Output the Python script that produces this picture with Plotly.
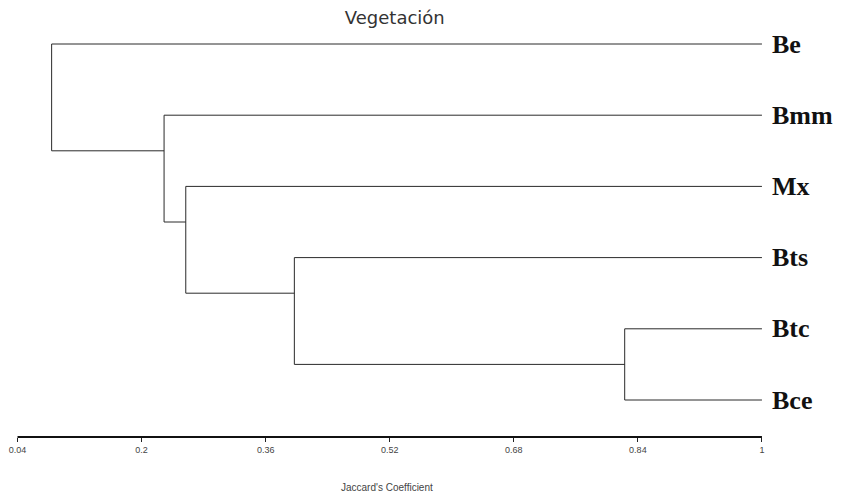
import plotly.graph_objects as go

# Leaves in display order (top to bottom)
leaves = ["Be", "Bmm", "Mx", "Bts", "Btc", "Bce"]

# Agglomeration steps: (first child, second child, Jaccard similarity at join)
merge_first = ["Btc", "Bts", "Mx", "Bmm", "Be"]
merge_second = ["Bce", "N1", "N2", "N3", "N4"]
merge_level = [0.823, 0.397, 0.257, 0.229, 0.084]

# Axis ticks
tick_vals = [0.04, 0.2, 0.36, 0.52, 0.68, 0.84, 1.0]
tick_text = ["0.04", "0.2", "0.36", "0.52", "0.68", "0.84", "1"]

leaf_level = 1.0

# Node positions: leaves sit at their index, joined nodes hang half a step below their first child
pos_y = {name: float(i) for i, name in enumerate(leaves)}
pos_x = {name: leaf_level for name in leaves}

xs, ys = [], []
for k, (a, b, h) in enumerate(zip(merge_first, merge_second, merge_level), start=1):
    ya, yb = pos_y[a], pos_y[b]
    xs += [pos_x[a], h, h, pos_x[b], None]
    ys += [ya, ya, yb, yb, None]
    node = f"N{k}"
    pos_y[node] = ya + 0.5
    pos_x[node] = h

fig = go.Figure()
fig.add_trace(go.Scatter(
    x=xs, y=ys, mode="lines",
    line=dict(color="#2a2a2a", width=1),
    hoverinfo="skip", showlegend=False,
))

# Leaf names
for name in leaves:
    fig.add_annotation(
        x=leaf_level, y=pos_y[name], xref="x", yref="y",
        text=name, showarrow=False, xanchor="left", yanchor="middle",
        xshift=8,
        font=dict(family="Liberation Serif, Times New Roman, serif", size=26,
                  color="#111", weight="bold"),
    )

# Similarity scale line
fig.add_shape(type="line", xref="x", yref="paper",
              x0=tick_vals[0], x1=tick_vals[-1], y0=0, y1=0,
              line=dict(color="#111", width=2))

fig.add_annotation(
    x=0.517, y=0, xref="x", yref="paper", yshift=-50,
    text="Jaccard's Coefficient", showarrow=False,
    xanchor="center", yanchor="middle",
    font=dict(family="Liberation Sans, Arial, sans-serif", size=10, color="#444"),
)

fig.update_layout(
    width=849, height=494,
    margin=dict(l=0, r=0, t=0, b=57),
    paper_bgcolor="white", plot_bgcolor="white",
    title=dict(text="Vegetación", x=0.465, y=1 - 18 / 494,
               xref="container", yref="container",
               xanchor="center", yanchor="middle",
               font=dict(family="DejaVu Sans, sans-serif", size=18, color="#333")),
    xaxis=dict(
        range=[0.04 - 17.5 / 775, 1 + 87 / 775],
        tickvals=tick_vals, ticktext=tick_text,
        ticks="outside", ticklen=4, tickcolor="#222", tickwidth=1,
        tickfont=dict(family="Liberation Sans, Arial, sans-serif", size=9, color="#444"),
        showline=False, showgrid=False, zeroline=False,
    ),
    yaxis=dict(
        range=[(437 - 44) / 71.2, -44 / 71.2],
        visible=False, showgrid=False, zeroline=False,
    ),
    showlegend=False,
)

fig.write_html("out.html")
